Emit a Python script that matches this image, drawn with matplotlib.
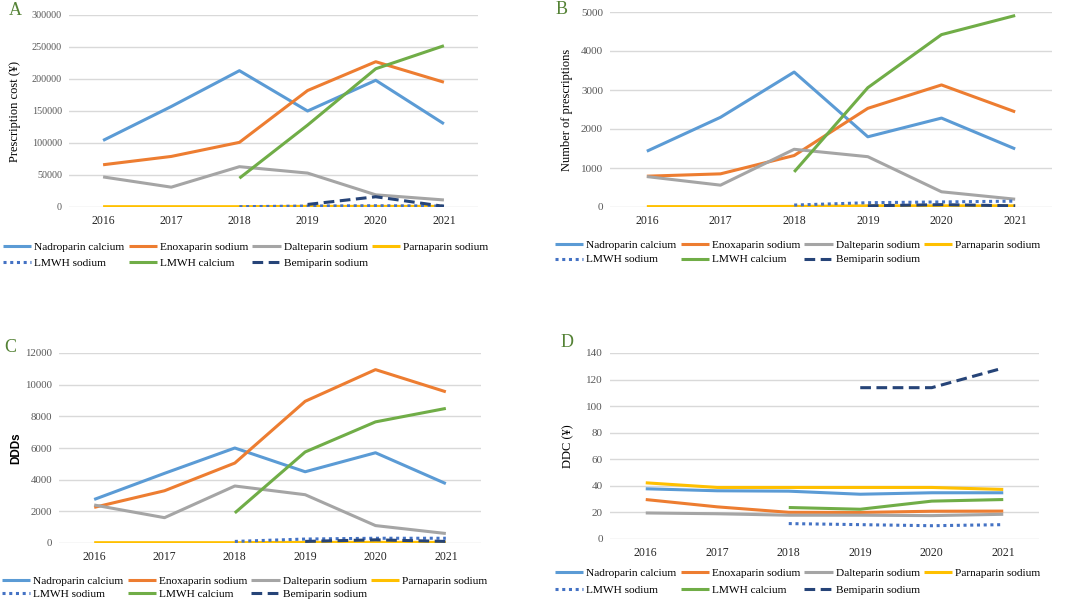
import matplotlib.pyplot as plt
import numpy as np

plt.rcParams['font.family'] = ['Liberation Serif', 'DejaVu Serif']

years = ['2016', '2017', '2018', '2019', '2020', '2021']
names = ['Nadroparin calcium', 'Enoxaparin sodium', 'Dalteparin sodium', 'Parnaparin sodium',
         'LMWH sodium', 'LMWH calcium', 'Bemiparin sodium']
N = None

# A: prescription cost
costNadro = [104000, 157000, 213000, 150000, 198000, 130000]
costEnox = [66000, 79000, 101000, 182000, 227000, 195000]
costDalte = [47000, 31000, 63000, 53000, 19000, 11000]
costParna = [500, 500, 500, 1000, 1000, 1000]
costLmwhNa = [N, N, 500, 1500, 2000, 1500]
costLmwhCa = [N, N, 45000, 128000, 216000, 252000]
costBemi = [N, N, N, 4000, 16000, 1000]

# B: number of prescriptions
numNadro = [1430, 2300, 3460, 1800, 2280, 1490]
numEnox = [790, 850, 1320, 2530, 3130, 2440]
numDalte = [780, 560, 1480, 1290, 390, 200]
numParna = [10, 10, 15, 30, 30, 30]
numLmwhNa = [N, N, 50, 110, 130, 150]
numLmwhCa = [N, N, 900, 3060, 4420, 4910]
numBemi = [N, N, N, 30, 60, 30]

# C: DDDs
dddNadro = [2750, 4400, 6000, 4500, 5700, 3750]
dddEnox = [2250, 3300, 5050, 8950, 10950, 9550]
dddDalte = [2400, 1600, 3600, 3050, 1100, 600]
dddParna = [20, 20, 20, 40, 40, 40]
dddLmwhNa = [N, N, 100, 250, 300, 300]
dddLmwhCa = [N, N, 1900, 5750, 7650, 8500]
dddBemi = [N, N, N, 100, 200, 100]

# D: DDC
ddcNadro = [37.8, 36.3, 36.0, 33.7, 34.8, 34.8]
ddcEnox = [29.7, 24.2, 20.1, 20.0, 20.9, 21.0]
ddcDalte = [19.6, 19.0, 17.9, 17.9, 17.6, 18.6]
ddcParna = [42.3, 38.8, 38.8, 38.8, 38.8, 37.3]
ddcLmwhNa = [N, N, 11.6, 10.8, 10.0, 10.8]
ddcLmwhCa = [N, N, 23.7, 22.4, 28.5, 29.7]
ddcBemi = [N, N, N, 113.9, 113.9, 128.7]

colors = ['#5B9BD5', '#ED7D31', '#A5A5A5', '#FFC000', '#4472C4', '#70AD47', '#264478']
styles = ['-', '-', '-', '-', (0, (1, 1.2)), '-', (0, (3.5, 1.8))]

W, H = 1065, 602

def fx(px):
    return px / W

def fy(py):
    return 1 - py / H

# letter, data, ylabel, ymax, step, grid box (l, r, top, bottom px), ytick size,
# ylabel x px, letter (x, top) px, legend (x, top, labelspacing)
panels = [
    ('A', [costNadro, costEnox, costDalte, costParna, costLmwhNa, costLmwhCa, costBemi],
     'Prescription cost (¥)', 300000, 50000, (69, 478, 15, 207), 7.3, 15, (9, 2), (3, 242, 0.5)),
    ('B', [numNadro, numEnox, numDalte, numParna, numLmwhNa, numLmwhCa, numBemi],
     'Number of prescriptions', 5000, 1000, (610, 1052, 12, 207), 8.0, 567, (556, 1), (555, 240, 0.4)),
    ('C', [dddNadro, dddEnox, dddDalte, dddParna, dddLmwhNa, dddLmwhCa, dddBemi],
     'DDDs', 12000, 2000, (59, 481, 353, 543), 7.8, 16, (4, 339), (2, 576, 0.3)),
    ('D', [ddcNadro, ddcEnox, ddcDalte, ddcParna, ddcLmwhNa, ddcLmwhCa, ddcBemi],
     'DDC (¥)', 140, 20, (610, 1039, 353, 539), 8.0, 568, (561, 334), (555, 568, 0.65)),
]

fig = plt.figure(figsize=(W / 100, H / 100), dpi=100)
x = np.arange(len(years))

for letter, series, ylab, ymax, ystep, box, ysize, ylabx, letpos, leg in panels:
    l, r, t, b = box
    ax = fig.add_axes([fx(l), fy(b), fx(r - l), (b - t) / H])
    handles = []
    for i in range(len(names)):
        y = np.array([np.nan if v is None else v for v in series[i]], dtype=float)
        ln, = ax.plot(x, y, color=colors[i], linestyle=styles[i], linewidth=2.2,
                      solid_capstyle='butt', label=names[i])
        handles.append(ln)
    ax.set_xlim(-0.5, 5.5)
    ax.set_ylim(0, ymax)
    ax.set_yticks(np.arange(0, ymax + 1, ystep))
    ax.set_xticks(x)
    ax.set_xticklabels(years)
    ax.grid(axis='y', color='#D9D9D9', linewidth=1)
    ax.set_axisbelow(True)
    for s in ax.spines.values():
        s.set_visible(False)
    ax.tick_params(length=0)
    ax.tick_params(axis='y', labelsize=ysize, labelcolor='#595959', pad=5)
    ax.tick_params(axis='x', labelsize=8.5, labelcolor='#262626', pad=6)
    if letter == 'C':
        fig.text(fx(ylabx), (fy(t) + fy(b)) / 2, ylab, rotation=90, fontsize=8.5,
                 family='Liberation Sans', fontweight='bold', ha='center', va='center')
    else:
        fig.text(fx(ylabx), (fy(t) + fy(b)) / 2, ylab, rotation=90, fontsize=9,
                 ha='center', va='center')
    fig.text(fx(letpos[0]), fy(letpos[1]), letter, color='#548235', fontsize=13,
             ha='left', va='top')
    order = [0, 4, 1, 5, 2, 6, 3]
    fig.legend([handles[k] for k in order], [names[k] for k in order], ncol=4,
               loc='upper left', bbox_to_anchor=(fx(leg[0]), fy(leg[1])), frameon=False,
               fontsize=8.2, handlelength=2.5, handletextpad=0.25, columnspacing=0.35,
               labelspacing=leg[2], borderaxespad=0, borderpad=0)

fig.savefig('out.png', dpi=100)
